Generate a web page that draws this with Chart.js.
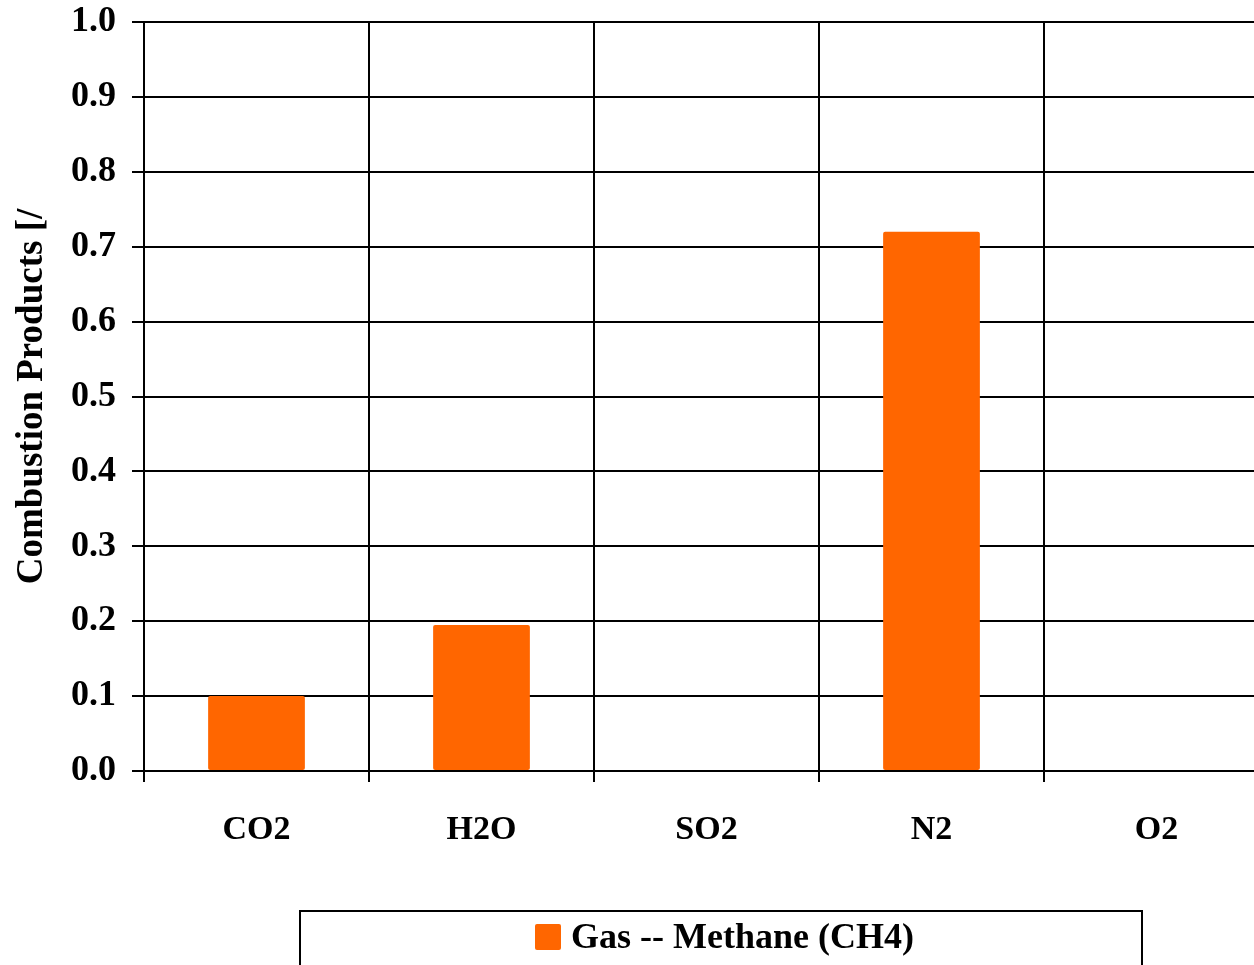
<!DOCTYPE html>
<html>
<head>
<meta charset="utf-8">
<title>Combustion Products</title>
<script src="https://cdn.jsdelivr.net/npm/chart.js@4.4.1/dist/chart.umd.min.js"></script>
<style>
  html, body { margin:0; padding:0; background:#fff; overflow:hidden; }
  #wrap { position:relative; width:1269px; height:965px; }
</style>
</head>
<body>
<div id="wrap"><canvas id="chart"></canvas></div>
<script>
/* ==== Data ==== */
const categories = ['CO2', 'H2O', 'SO2', 'N2', 'O2'];
const methaneValues = [0.10, 0.195, 0, 0.72, 0];
const seriesLabel = 'Gas -- Methane (CH4)';
const yTitle = 'Combustion Products [/';

/* ==== Style ==== */
const FONT = '"Liberation Serif", "Times New Roman", serif';
const ORANGE = '#FF6600';

// legend drawn by hand, boxed like the original
const boxedLegend = {
  id: 'boxedLegend',
  afterDraw(chart){
    const ctx = chart.ctx;
    const ds = chart.data.datasets[0];
    ctx.save();
    ctx.strokeStyle = '#000';
    ctx.lineWidth = 2;
    ctx.strokeRect(300, 911, 842, 100);
    ctx.fillStyle = ds.backgroundColor;
    ctx.beginPath();
    ctx.roundRect(535, 924, 26, 26, 2);
    ctx.fill();
    ctx.fillStyle = '#000';
    ctx.font = 'bold 36px ' + FONT;
    ctx.textBaseline = 'middle';
    ctx.textAlign = 'left';
    ctx.fillText(ds.label, 571, 939);
    ctx.restore();
  }
};

const ctx = document.getElementById('chart').getContext('2d');
new Chart(ctx, {
  type: 'bar',
  data: {
    labels: categories,
    datasets: [{
      label: seriesLabel,
      data: methaneValues,
      backgroundColor: ORANGE,
      borderWidth: 0,
      borderRadius: 2,
      borderSkipped: false,
      barPercentage: 0.43,
      categoryPercentage: 1.0
    }]
  },
  options: {
    responsive: true,
    maintainAspectRatio: false,
    animation: false,
    layout: { padding: { top: 22, left: 0, right: 0, bottom: 0 } },
    plugins: {
      legend: { display: false },
      tooltip: { enabled: false }
    },
    scales: {
      x: {
        offset: true,
        grid: {
          offset: true,
          color: '#000',
          lineWidth: 2,
          tickLength: 11,
          drawOnChartArea: true
        },
        border: { color: '#000', width: 2 },
        ticks: {
          color: '#000',
          font: { family: FONT, size: 34, weight: 'bold' },
          padding: 28,
          maxRotation: 0
        },
        afterFit(scale){
          scale.height = 194;
          scale.paddingLeft = 0;
          scale.paddingRight = 0;
        }
      },
      y: {
        min: 0,
        max: 1.0,
        ticks: {
          stepSize: 0.1,
          color: '#000',
          font: { family: FONT, size: 36, weight: 'bold' },
          padding: 16,
          callback: v => Number(v).toFixed(1)
        },
        grid: { color: '#000', lineWidth: 2, tickLength: 12 },
        border: { color: '#000', width: 2 },
        title: {
          display: true,
          text: yTitle,
          color: '#000',
          font: { family: FONT, size: 37, weight: 'bold' },
          padding: { top: 10, bottom: 0 }
        },
        afterFit(scale){
          scale.width = 144;
          scale.paddingTop = 0;
          scale.paddingBottom = 0;
        }
      }
    }
  },
  plugins: [boxedLegend]
});
</script>
</body>
</html>
